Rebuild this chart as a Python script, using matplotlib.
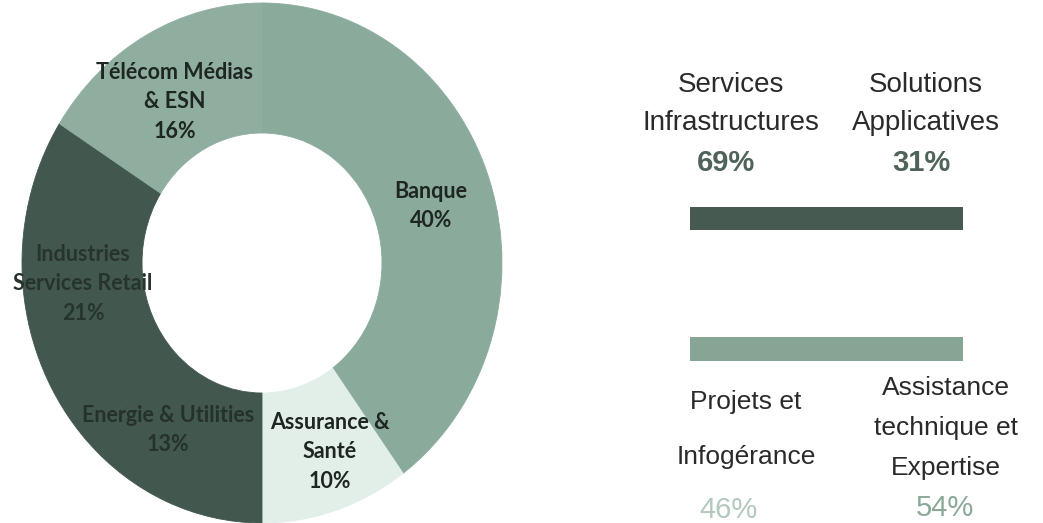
import matplotlib.pyplot as plt
import numpy as np

# donut: sectors, clockwise from 12 o'clock
secteurs = ["Banque", "Assurance &\nSanté", "Energie & Utilities",
            "Industries\nServices Retail", "Télécom Médias\n& ESN"]
parts = [40, 10, 13, 21, 16]
couleurs = ["#8aab9c", "#e2efe9", "#42584f", "#42584f", "#8fae9f"]

# bars on the right
metiers = ["Services\nInfrastructures", "Solutions\nApplicatives"]
metiers_pct = [69, 31]
offres = ["Projets et", "Infogérance"]
offres2 = ["Assistance", "technique et", "Expertise"]
offres_pct = [46, 54]

W, H = 1043, 523
fig = plt.figure(figsize=(W / 100, H / 100), dpi=100)


def px(x, y):
    return x / W, 1 - y / H


# ---- donut ----
cx, cy, rx, ry = 262, 263, 240, 260
ax = fig.add_axes([(cx - rx) / W, (H - cy - ry) / H, 2 * rx / W, 2 * ry / H])
wedges, _ = ax.pie(parts, colors=couleurs, startangle=90, counterclock=False,
                   radius=1, wedgeprops=dict(width=0.5))
for w in wedges:
    w.set_edgecolor(w.get_facecolor())
    w.set_linewidth(0.6)
ax.set_aspect("auto")
ax.set_xlim(-1, 1)
ax.set_ylim(-1, 1)
ax.axis("off")

lab_pos = [(431, 206), (330, 452), (168, 430), (83, 284), (175, 102)]
lab_col = ["#1e2622", "#1e2622", "#25312b", "#27342e", "#1e2622"]
for nom, p, (x, y), c in zip(secteurs, parts, lab_pos, lab_col):
    fig.text(*px(x, y), f"{nom}\n{p}%", ha="center", va="center",
             fontsize=15.5, fontweight="bold", family="Lato", color=c,
             linespacing=1.5)

# ---- bars ----
axb = fig.add_axes([690 / W, (H - 372) / H, 273 / W, 172 / H])
gauche = 0
for v in metiers_pct:
    axb.barh(218.5, v, left=gauche, height=23, color="#465a52")
    gauche += v
gauche = 0
for v in offres_pct:
    axb.barh(349, v, left=gauche, height=24, color="#86a595")
    gauche += v
axb.set_xlim(0, 100)
axb.set_ylim(372, 200)
axb.axis("off")

police = "Liberation Sans"
tc = "#2a2a2a"
# top labels
for (nom, v, x) in zip(metiers, metiers_pct, [731, 926]):
    l1, l2 = nom.split("\n")
    fig.text(*px(x, 85), l1, ha="center", va="center", fontsize=20,
             family=police, color=tc)
    fig.text(*px(x, 123), l2, ha="center", va="center", fontsize=20,
             family=police, color=tc)
    fig.text(*px(x - 5, 163), f"{v}%", ha="center", va="center",
             fontsize=21, family=police, fontweight="bold", color="#506359")

# bottom labels
for t, y in zip(offres, [402, 457]):
    fig.text(*px(746, y), t, ha="center", va="center", fontsize=19,
             family=police, color=tc)
fig.text(*px(728, 510), f"{offres_pct[0]}%", ha="center", va="center",
         fontsize=21, family=police, color="#b3c9bd")
for t, y in zip(offres2, [388, 428, 468]):
    fig.text(*px(946, y), t, ha="center", va="center", fontsize=19,
             family=police, color=tc)
fig.text(*px(945, 508), f"{offres_pct[1]}%", ha="center", va="center",
         fontsize=21, family=police, color="#8aa999")

fig.savefig("out.png", dpi=100)
